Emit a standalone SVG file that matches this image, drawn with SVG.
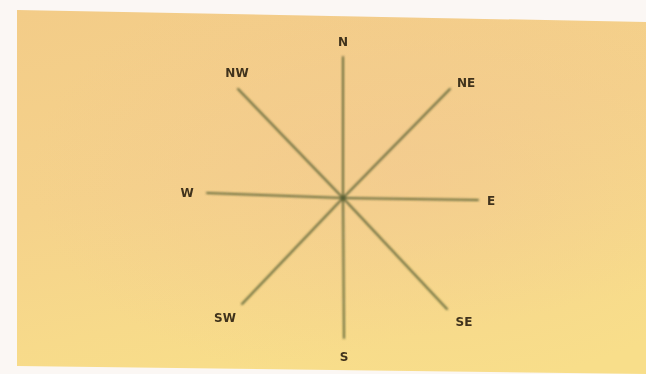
<svg xmlns="http://www.w3.org/2000/svg" width="646" height="374" viewBox="0 0 646 374">
  <defs>
    <linearGradient id="paper" x1="0" y1="0" x2="0.35" y2="1">
      <stop offset="0" stop-color="#f3cc88"/>
      <stop offset="0.5" stop-color="#f5d28b"/>
      <stop offset="1" stop-color="#f8de8a"/>
    </linearGradient>
    <radialGradient id="tint" cx="0.62" cy="0.45" r="0.6">
      <stop offset="0" stop-color="#f0c094" stop-opacity="0.4"/>
      <stop offset="1" stop-color="#f0c094" stop-opacity="0"/>
    </radialGradient>
    <filter id="soft" x="-20%" y="-20%" width="140%" height="140%">
      <feGaussianBlur stdDeviation="0.8"/>
    </filter>
    <filter id="softer" x="-20%" y="-20%" width="140%" height="140%">
      <feGaussianBlur stdDeviation="0.7"/>
    </filter>
  </defs>
  <style>
    .ray { stroke: #505a30; stroke-width: 2; stroke-linecap: round; fill: none; opacity: 0.85; }
    .lbl { font-family: "DejaVu Sans", "Liberation Sans", sans-serif; font-weight: bold; font-size: 12px; fill: #3f321c; text-anchor: middle; dominant-baseline: central; }
  </style>
  <rect width="646" height="374" fill="#fbf7f4"/>
  <polygon points="17,10 646,22 646,374 17,366" fill="url(#paper)"/>
  <polygon points="17,10 646,22 646,374 17,366" fill="url(#tint)"/>

  <g id="connectors" filter="url(#soft)">
    <line class="ray" x1="343" y1="57" x2="343" y2="198"/>
    <line class="ray" x1="343" y1="198" x2="344" y2="338"/>
    <line class="ray" x1="207" y1="193" x2="343" y2="198"/>
    <line class="ray" x1="343" y1="198" x2="478" y2="200"/>
    <line class="ray" x1="238" y1="89" x2="343" y2="198"/>
    <line class="ray" x1="450" y1="89" x2="343" y2="198"/>
    <line class="ray" x1="242" y1="304" x2="343" y2="198"/>
    <line class="ray" x1="447" y1="309" x2="343" y2="198"/>
  </g>

  <g filter="url(#softer)">
    <g id="n"><text class="lbl" x="343" y="42">N</text></g>
    <g id="nw"><text class="lbl" x="237" y="73">NW</text></g>
    <g id="ne"><text class="lbl" x="466" y="83">NE</text></g>
    <g id="w"><text class="lbl" x="187" y="193">W</text></g>
    <g id="e"><text class="lbl" x="491" y="201">E</text></g>
    <g id="sw"><text class="lbl" x="225" y="318">SW</text></g>
    <g id="se"><text class="lbl" x="464" y="322">SE</text></g>
    <g id="s"><text class="lbl" x="344" y="357">S</text></g>
  </g>
</svg>
